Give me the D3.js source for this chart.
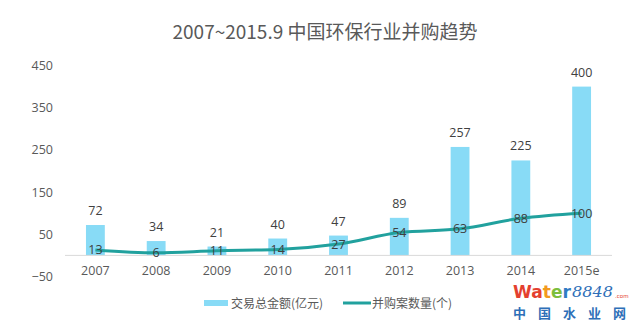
<!DOCTYPE html>
<html>
<head>
<meta charset="utf-8">
<script src="https://cdn.jsdelivr.net/npm/d3@7"></script>
<style>
  html, body { margin: 0; padding: 0; background: #fff; }
  svg { display: block; font-family: "Noto Sans CJK SC", "Open Sans", sans-serif; }
</style>
</head>
<body>
<svg id="chart" width="640" height="330"></svg>
<script>
// Deal values (亿元) and deal counts by year
const years = ["2007", "2008", "2009", "2010", "2011", "2012", "2013", "2014", "2015e"];
const amounts = [72, 34, 21, 40, 47, 89, 257, 225, 400];
const counts = [13, 6, 11, 14, 27, 54, 63, 88, 100];
const yTicks = [-50, 50, 150, 250, 350, 450];

const svg = d3.select("#chart");

const x = d3.scaleBand().domain(years).range([65, 612]).paddingInner(0.69).paddingOuter(0.345);
const y = d3.scaleLinear().domain([-50, 450]).range([276.5, 65.5]);

// Title
svg.append("text")
  .attr("x", 325).attr("y", 39)
  .attr("text-anchor", "middle")
  .attr("font-size", 19)
  .attr("fill", "#595959")
  .text("2007~2015.9 中国环保行业并购趋势");

// Y axis labels
const yAxis = d3.axisLeft(y).tickValues(yTicks).tickSize(0).tickPadding(0);
const gy = svg.append("g").attr("transform", "translate(53,0)").call(yAxis);
gy.select(".domain").remove();
gy.selectAll("text").attr("font-size", 12.5).attr("fill", "#595959")
  .attr("font-family", "'Open Sans', 'Noto Sans', sans-serif");

// Bars
svg.append("g").selectAll("rect").data(years).join("rect")
  .attr("x", d => x(d))
  .attr("width", x.bandwidth())
  .attr("y", (d, i) => y(amounts[i]))
  .attr("height", (d, i) => y(0) - y(amounts[i]))
  .attr("fill", "#88DBF6");

// Zero baseline
svg.append("line")
  .attr("x1", 65).attr("x2", 612)
  .attr("y1", y(0)).attr("y2", y(0))
  .attr("stroke", "#d9d9d9").attr("stroke-width", 1);

// X axis labels
const xAxis = d3.axisBottom(x).tickSize(0).tickPadding(0);
const gx = svg.append("g").attr("transform", `translate(0,${y(0) + 11})`).call(xAxis);
gx.select(".domain").remove();
gx.selectAll("text").attr("font-size", 12.5).attr("fill", "#595959")
  .attr("font-family", "'Open Sans', 'Noto Sans', sans-serif");

// Deal count line
const line = d3.line()
  .x((d, i) => x(years[i]) + x.bandwidth() / 2)
  .y(d => y(d))
  .curve(d3.curveMonotoneX);
svg.append("path")
  .datum(counts)
  .attr("d", line)
  .attr("fill", "none")
  .attr("stroke", "#21A19E")
  .attr("stroke-width", 3);

// Bar value labels
svg.append("g").selectAll("text").data(amounts).join("text")
  .attr("x", (d, i) => x(years[i]) + x.bandwidth() / 2)
  .attr("y", d => y(d) - 10)
  .attr("text-anchor", "middle")
  .attr("font-size", 12.5)
  .attr("fill", "#404040")
  .attr("font-family", "'Open Sans', 'Noto Sans', sans-serif")
  .text(d => d);

// Line value labels
svg.append("g").selectAll("text").data(counts).join("text")
  .attr("x", (d, i) => x(years[i]) + x.bandwidth() / 2)
  .attr("y", d => y(d) + 4.5)
  .attr("text-anchor", "middle")
  .attr("font-size", 12.5)
  .attr("fill", "#404040")
  .attr("font-family", "'Open Sans', 'Noto Sans', sans-serif")
  .text(d => d);

// Legend
const lg = svg.append("g");
lg.append("rect").attr("x", 204).attr("y", 300).attr("width", 24).attr("height", 6).attr("fill", "#88DBF6");
lg.append("text").attr("x", 231).attr("y", 307.5).attr("font-size", 12).attr("fill", "#595959").text("交易总金额(亿元)");
lg.append("line").attr("x1", 343).attr("x2", 371).attr("y1", 303).attr("y2", 303)
  .attr("stroke", "#21A19E").attr("stroke-width", 3);
lg.append("text").attr("x", 372).attr("y", 307.5).attr("font-size", 12).attr("fill", "#595959").text("并购案数量(个)");

// Site mark
const wm = svg.append("g");
const wt = wm.append("text").attr("x", 513).attr("y", 298)
  .attr("font-family", "'DejaVu Sans', sans-serif").attr("font-weight", "bold").attr("font-size", 18)
  .attr("textLength", 58).attr("lengthAdjust", "spacingAndGlyphs");
[["W", "#E4402F"], ["a", "#E4402F"], ["t", "#F29A1E"], ["e", "#7DBE3C"], ["r", "#2E7BC4"]]
  .forEach(([c, col]) => wt.append("tspan").attr("fill", col).text(c));
wm.append("text").attr("x", 572).attr("y", 297)
  .attr("font-family", "'DejaVu Serif', serif").attr("font-style", "italic").attr("font-size", 14)
  .attr("textLength", 41).attr("lengthAdjust", "spacingAndGlyphs")
  .attr("fill", "#2E6FB8").text("8848");
wm.append("text").attr("x", 615).attr("y", 298)
  .attr("font-family", "'DejaVu Sans', sans-serif").attr("font-size", 5.5)
  .attr("fill", "#E4402F").text(".com");
wm.append("text").attr("x", 513).attr("y", 318)
  .attr("font-size", 13).attr("font-weight", "bold").attr("fill", "#2E6FB8")
  .attr("letter-spacing", 12).text("中国水业网");
</script>
</body>
</html>
